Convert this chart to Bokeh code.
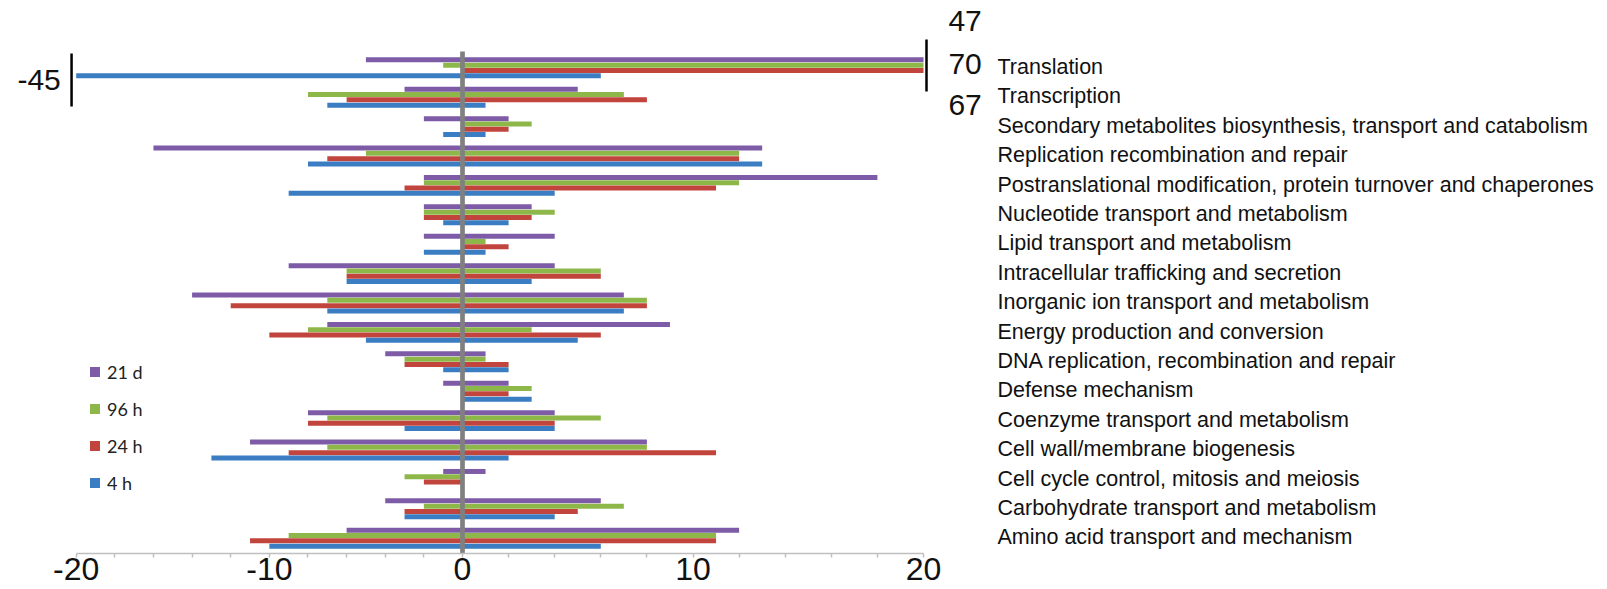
import numpy as np
from bokeh.plotting import figure
from bokeh.models import Range1d, FixedTicker, Legend, LegendItem
from bokeh.core.properties import value
from bokeh.embed import file_html
from bokeh.resources import INLINE

# ---------------- data ----------------
categories = [
    "Translation",
    "Transcription",
    "Secondary metabolites biosynthesis, transport and catabolism",
    "Replication recombination and repair",
    "Postranslational modification, protein turnover and chaperones",
    "Nucleotide transport and metabolism",
    "Lipid transport and metabolism",
    "Intracellular trafficking and secretion",
    "Inorganic ion transport and metabolism",
    "Energy production and conversion",
    "DNA replication, recombination and repair",
    "Defense mechanism",
    "Coenzyme transport and metabolism",
    "Cell wall/membrane biogenesis",
    "Cell cycle control, mitosis and meiosis",
    "Carbohydrate transport and metabolism",
    "Amino acid transport and mechanism",
]

# series order from top of each group to bottom
series = ["21 d", "96 h", "24 h", "4 h"]

up_21d = [47, 5, 2, 13, 18, 3, 4, 4, 7, 9, 1, 2, 4, 8, 1, 6, 12]
up_96h = [70, 7, 3, 12, 12, 4, 1, 6, 8, 3, 1, 3, 6, 8, 0, 7, 11]
up_24h = [67, 8, 2, 12, 11, 3, 2, 6, 8, 6, 2, 2, 4, 11, 0, 5, 11]
up_4h = [6, 1, 1, 13, 4, 2, 1, 3, 7, 5, 2, 3, 4, 2, 0, 4, 6]

down_21d = [-5, -3, -2, -16, -2, -2, -2, -9, -14, -7, -4, -1, -8, -11, -1, -4, -6]
down_96h = [-1, -8, 0, -5, -2, -2, 0, -6, -7, -8, -3, 0, -7, -7, -3, -2, -9]
down_24h = [0, -6, 0, -7, -3, -2, 0, -6, -12, -10, -3, 0, -8, -9, -2, -3, -11]
down_4h = [-45, -7, -1, -8, -9, -1, -2, -6, -7, -5, -1, 0, -3, -13, 0, -3, -10]

x_ticks_pos = [0, 2, 4, 6, 8, 10, 12, 14, 16, 18, 20]
x_ticks_neg = [-20, -18, -16, -14, -12, -10, -8, -6, -4, -2]
x_labels = {-20: "-20", -10: "-10", 0: "0", 10: "10", 20: "20"}

up = {"21 d": up_21d, "96 h": up_96h, "24 h": up_24h, "4 h": up_4h}
down = {"21 d": down_21d, "96 h": down_96h, "24 h": down_24h, "4 h": down_4h}
colors = {"21 d": "#7E5BA6", "96 h": "#8DB849", "24 h": "#C2453D", "4 h": "#3B7DC2"}

# ---------------- layout constants ----------------
W, H = 1607, 589
ZERO_PX = 462.0       # screen x of value 0
POS_PX = 23.05        # px per unit, positive side
NEG_PX = 19.315       # px per unit, negative side
GROUP_PX = 29.4       # px per category
TOP_PX = 67.3         # screen y of first group centre
FRAME_BOTTOM = 553.0  # screen y of x axis line
AX_MIN, AX_MAX = -20, 20

offsets = {"21 d": 0.27, "96 h": 0.09, "24 h": -0.09, "4 h": -0.27}
bar_h = 0.17

p = figure(
    width=W, height=H,
    x_range=Range1d(-ZERO_PX / POS_PX, (W - ZERO_PX) / POS_PX),
    y_range=Range1d((TOP_PX - FRAME_BOTTOM) / GROUP_PX, TOP_PX / GROUP_PX),
    y_axis_location=None,
    output_backend="svg", toolbar_location=None,
    min_border=0, min_border_bottom=int(H - FRAME_BOTTOM),
)
p.extra_x_ranges = {"neg": Range1d(-ZERO_PX / NEG_PX, (W - ZERO_PX) / NEG_PX)}
p.outline_line_color = None
p.xgrid.visible = False
p.ygrid.visible = False
p.background_fill_color = "white"
p.border_fill_color = "white"

idx = -np.arange(len(categories), dtype=float)

for s in series:
    y = idx + offsets[s]
    upv = np.clip(np.array(up[s], dtype=float), AX_MIN, AX_MAX)
    dnv = np.clip(np.array(down[s], dtype=float), AX_MIN, AX_MAX)
    p.hbar(y=y, left=0, right=upv, height=bar_h,
           fill_color=colors[s], line_color=None)
    p.hbar(y=y, left=dnv, right=0, height=bar_h,
           fill_color=colors[s], line_color=None, x_range_name="neg")

# zero line (drawn on top of bars)
zl_top = (TOP_PX - 51) / GROUP_PX
p.segment(x0=[0], y0=[zl_top], x1=[0], y1=[p.y_range.start],
          line_color="#808080", line_width=4.7)

# markers for bars that run off the axis
over_y = {"21 d": 1.59, "96 h": 0.13, "24 h": -1.27}
over_txt, over_ys = [], []
for s in series:
    for i, v in enumerate(up[s]):
        if v > AX_MAX:
            over_txt.append(str(v))
            over_ys.append(-i + over_y[s])
if over_txt:
    p.segment(x0=[20.13], y0=[0.96], x1=[20.13], y1=[-0.81],
              line_color="black", line_width=2.5)
    p.text(x=[21.08] * len(over_txt), y=over_ys, text=over_txt,
           text_font=value("Liberation Sans"), text_font_size="30px",
           text_baseline="middle", text_align="left", text_color="#111111")

under_txt, under_ys = [], []
for s in series:
    for i, v in enumerate(down[s]):
        if v < AX_MIN:
            under_txt.append(str(v))
            under_ys.append(-i - 0.43)
if under_txt:
    p.segment(x0=[-20.24], y0=[0.49], x1=[-20.24], y1=[-1.32],
              line_color="black", line_width=2.5, x_range_name="neg")
    p.text(x=[-20.8] * len(under_txt), y=under_ys, text=under_txt,
           text_font=value("Liberation Sans"), text_font_size="30px",
           text_baseline="middle", text_align="right", text_color="#111111",
           x_range_name="neg")

# category labels
p.text(x=[23.21] * len(categories), y=list(idx + 0.03), text=categories,
       text_font=value("Liberation Sans"), text_font_size="21.5px",
       text_baseline="middle", text_align="left", text_color="#111111")

# x axis: positive side in default scale, negative side converted
k = NEG_PX / POS_PX
ticks = [float(v) * k for v in x_ticks_neg] + [float(v) for v in x_ticks_pos]
raw = x_ticks_neg + x_ticks_pos
overrides = {t: x_labels.get(v, "") for t, v in zip(ticks, raw)}
ax = p.xaxis[0]
ax.ticker = FixedTicker(ticks=ticks)
ax.major_label_overrides = overrides
ax.bounds = (AX_MIN * k, AX_MAX)
ax.axis_line_color = "#BFBFBF"
ax.axis_line_width = 1.5
ax.major_tick_line_color = "#BFBFBF"
ax.major_tick_line_width = 1.5
ax.major_tick_out = 4
ax.major_tick_in = 0
ax.minor_tick_out = 0
ax.minor_tick_in = 0
ax.major_label_standoff = 0
ax.major_label_text_font = "Liberation Sans"
ax.major_label_text_font_size = "32px"
ax.major_label_text_color = "#111111"

# legend: square swatches (renderers with no visible points)
swatches = {}
for s in series:
    swatches[s] = p.scatter(x=[np.nan], y=[np.nan], marker="square",
                            size=10, fill_color=colors[s], line_color=None)
items = [LegendItem(label=s, renderers=[swatches[s]], index=0) for s in series]
legend = Legend(items=items, location=(82, 58),
                glyph_width=25, glyph_height=25, label_height=22,
                spacing=12, padding=0, margin=0, label_standoff=0,
                border_line_color=None, background_fill_alpha=0,
                label_text_font="Lato", label_text_font_size="18px",
                label_text_color="#222222")
p.add_layout(legend)

open("out.html", "w").write(file_html(p, INLINE))
